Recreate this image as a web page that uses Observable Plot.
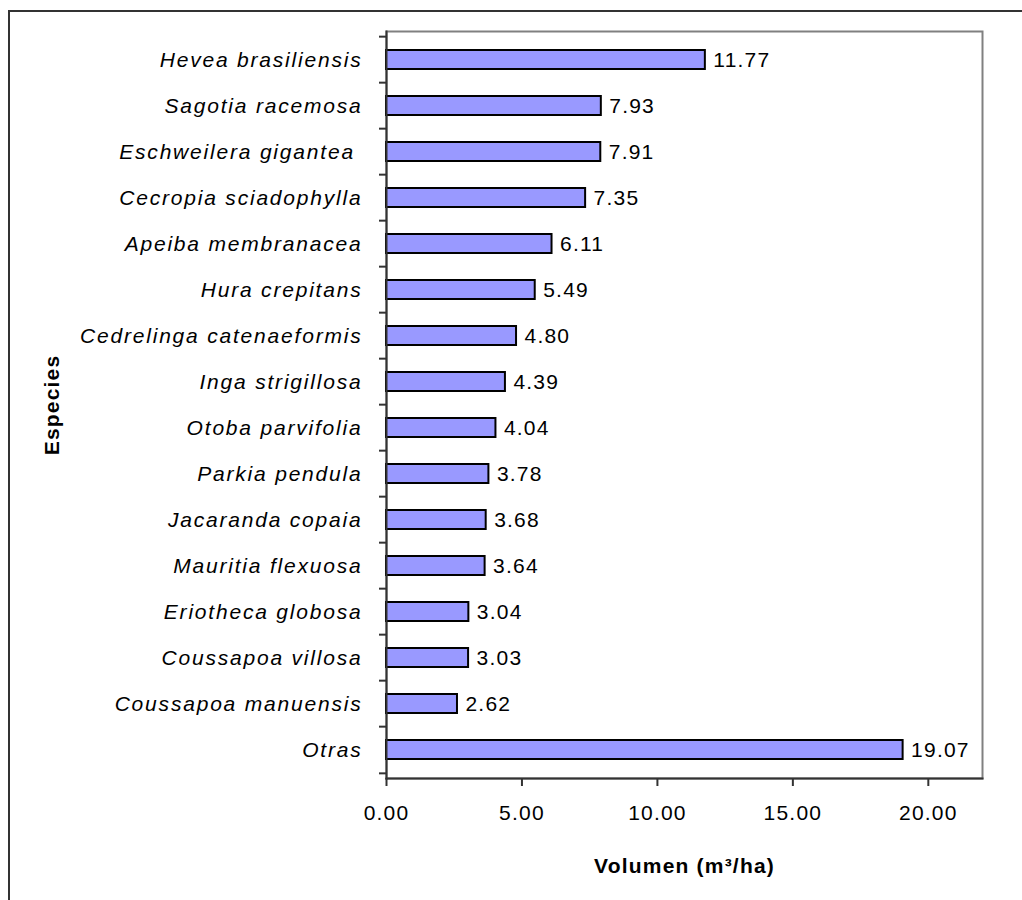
<!DOCTYPE html>
<html>
<head>
<meta charset="utf-8">
<script src="https://cdn.jsdelivr.net/npm/d3@7"></script>
<script src="https://cdn.jsdelivr.net/npm/@observablehq/plot@0.6"></script>
<style>
  html, body { margin: 0; padding: 0; background: #fff; overflow: hidden; width: 1022px; height: 900px; }
  #outer { position: absolute; left: 8px; top: 10px; width: 1200px; height: 1200px; border: 2px solid #333; box-sizing: border-box; }
  #chart { position: absolute; left: 0; top: 0; }
  #chart svg text { letter-spacing: 1.2px; }
  #chart svg .ylab text { letter-spacing: 1.8px; white-space: pre; }
</style>
</head>
<body>
<div id="outer"></div>
<div id="chart"></div>
<script>
const species = [
  "Hevea brasiliensis",
  "Sagotia racemosa",
  "Eschweilera gigantea ",
  "Cecropia sciadophylla",
  "Apeiba membranacea",
  "Hura crepitans",
  "Cedrelinga catenaeformis",
  "Inga strigillosa",
  "Otoba parvifolia",
  "Parkia pendula",
  "Jacaranda copaia",
  "Mauritia flexuosa",
  "Eriotheca globosa",
  "Coussapoa villosa",
  "Coussapoa manuensis",
  "Otras"
];
const volumen = [11.77, 7.93, 7.91, 7.35, 6.11, 5.49, 4.80, 4.39, 4.04, 3.78, 3.68, 3.64, 3.04, 3.03, 2.62, 19.07];
const xTicks = [0, 5, 10, 15, 20];
const xLabel = "Volumen (m³/ha)";
const yLabel = "Especies";

const data = species.map((s, i) => ({name: s, value: volumen[i]}));

const W = 1022, H = 900;
const mL = 386, mR = 40, mT = 31, mB = 122;
const step = (H - mT - mB) / species.length;

const chart = Plot.plot({
  width: W,
  height: H,
  marginLeft: mL,
  marginRight: mR,
  marginTop: mT,
  marginBottom: mB,
  style: {fontFamily: "'Liberation Sans', Arial, sans-serif", background: "transparent", color: "#000"},
  x: {domain: [0, 22]},
  y: {domain: species, paddingInner: 0.59, paddingOuter: 0.295},
  marks: [
    Plot.frame({stroke: "#808080", strokeWidth: 2}),
    Plot.barX(data, {x: "value", y: "name", fill: "#9999FF", stroke: "#000", strokeWidth: 2}),
    Plot.text(data, {x: "value", y: "name", text: d => d.value.toFixed(2), textAnchor: "start", dx: 8, fontSize: 21, fill: "#000"}),
    Plot.axisY({tickSize: 0, tickPadding: 24, fontSize: 21, fontStyle: "italic", fill: "#000", className: "ylab", label: null}),
    Plot.axisY({ticks: species, tickSize: 7, text: null, dy: -step / 2, stroke: "#333", strokeWidth: 2, label: null}),
    Plot.axisY({ticks: [species[species.length - 1]], tickSize: 7, text: null, dy: step / 2, stroke: "#333", strokeWidth: 2, label: null}),
    Plot.frame({anchor: "left", stroke: "#333", strokeWidth: 2}),
    Plot.frame({anchor: "bottom", stroke: "#333", strokeWidth: 2}),
    Plot.axisX({ticks: xTicks, tickFormat: d => d.toFixed(2), tickSize: 8, tickPadding: 19, fontSize: 21, fill: "#000", stroke: "#333", strokeWidth: 2, label: null}),
    Plot.text([xLabel], {frameAnchor: "bottom", lineAnchor: "middle", textAnchor: "middle", dy: 88, fontSize: 21, fontWeight: "bold", fill: "#000"}),
    Plot.text([yLabel], {frameAnchor: "left", textAnchor: "middle", lineAnchor: "middle", rotate: -90, dx: -334, fontSize: 21, fontWeight: "bold", fill: "#000"})
  ]
});
document.getElementById("chart").appendChild(chart);
</script>
</body>
</html>
